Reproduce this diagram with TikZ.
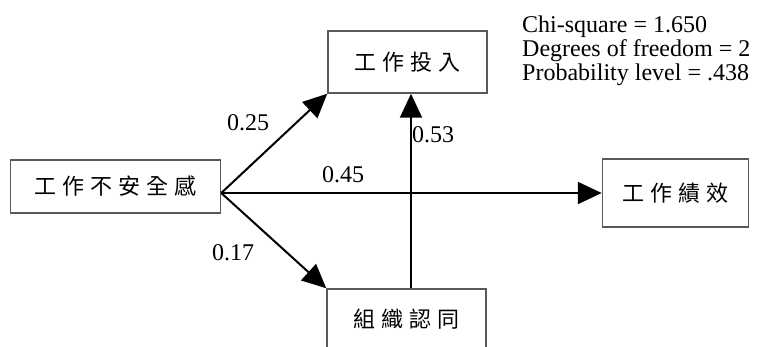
\documentclass[tikz,border=0pt]{standalone}
\usepackage{fontspec}
\setmainfont{Liberation Serif}
\newfontfamily\cjk{Noto Sans CJK TC}
\usetikzlibrary{arrows.meta}
\newcommand{\cg}{\hspace{6pt}}
\begin{document}
\begin{tikzpicture}[x=1pt,y=-1pt,
  box/.style={draw=black!65,line width=1.5pt,inner sep=0pt,font=\cjk\fontsize{22}{22}\selectfont},
  pathline/.style={draw=black,line width=2pt,-{Triangle[length=24pt,width=22pt]}},
  coef/.style={font=\fontsize{24}{24}\selectfont,inner sep=0pt},
  stat/.style={font=\fontsize{24}{24}\selectfont,inner sep=0pt,anchor=base west}]
\useasboundingbox (0,0) rectangle (758,347);
\clip (0,0) rectangle (758,347);
\fill[white] (0,0) rectangle (758,347);
% boxes
\node[box,minimum width=210pt,minimum height=53pt] (A) at (115.5,186.5) {工\cg 作\cg 不\cg 安\cg 全\cg 感};
\node[box,minimum width=159pt,minimum height=62pt] (B) at (407.5,62) {工\cg 作\cg 投\cg 入};
\node[box,minimum width=146pt,minimum height=68pt] (C) at (675.5,193) {工\cg 作\cg 績\cg 效};
\node[box,minimum width=159pt,minimum height=60pt] (D) at (406.5,319) {組\cg 織\cg 認\cg 同};
% connectors
\coordinate (src) at ([yshift=-6.5pt]A.east);
\draw[pathline] (src) -- (B.south west);
\draw[pathline] (src) -- (D.north west);
\draw[pathline] (src) -- (src -| C.west);
\draw[pathline] ([xshift=4.5pt]D.north) -- ([xshift=4.5pt]D.north |- B.south);
% coefficients
\node[coef] (l25) at (248,123) {0.25};
\node[coef] (l45) at (343,175) {0.45};
\node[coef] (l17) at (233,253) {0.17};
\node[coef] (l53) at (433,135) {0.53};
% statistics
\node[stat] (s1) at (522,33) {Chi-square = 1.650};
\node[stat] (s2) at (522,57) {Degrees of freedom = 2};
\node[stat] (s3) at (522,80.5) {Probability level = .438};
\end{tikzpicture}
\end{document}
